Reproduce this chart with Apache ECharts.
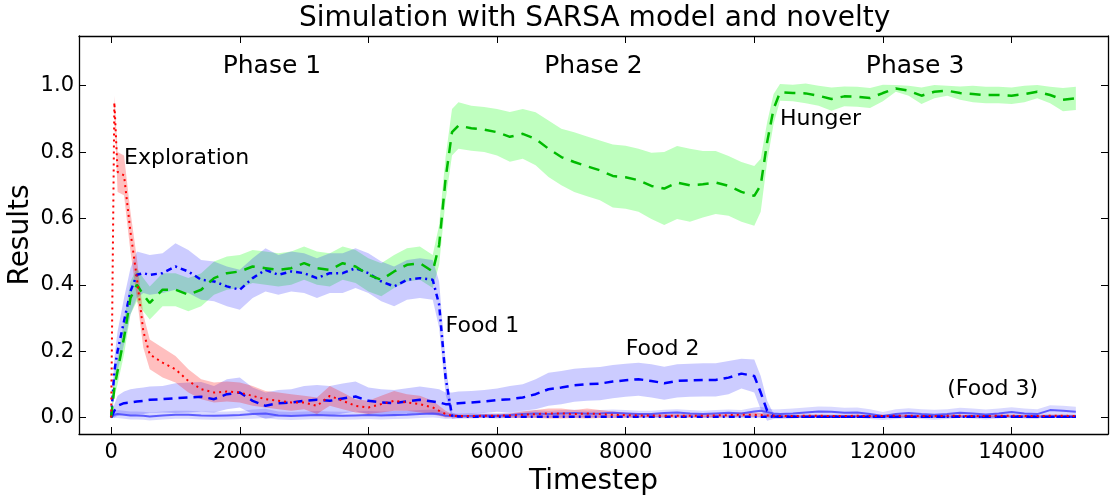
<!DOCTYPE html>
<html>
<head>
<meta charset="utf-8">
<script src="https://cdn.jsdelivr.net/npm/echarts@6/dist/echarts.min.js"></script>
<style>
  html, body { margin: 0; padding: 0; background: #fff; }
  #chart { width: 1110px; height: 495px; }
</style>
</head>
<body>
<div id="chart"></div>
<script>
// timesteps shared by all curves
var steps = [0, 50, 100, 200, 300, 400, 500, 600, 800, 1000,
  1200, 1400, 1600, 1800, 2000, 2200, 2400, 2600, 2800, 3000,
  3200, 3400, 3600, 3800, 4000, 4200, 4400, 4600, 4800, 5000,
  5100, 5200, 5300, 5400, 5600, 5800, 6000, 6200, 6400, 6600,
  6800, 7000, 7200, 7400, 7600, 7800, 8000, 8200, 8400, 8600,
  8800, 9000, 9200, 9400, 9600, 9800, 10000, 10100, 10200, 10300,
  10400, 10600, 10800, 11000, 11200, 11400, 11600, 11800, 12000, 12200,
  12400, 12600, 12800, 13000, 13200, 13400, 13600, 13800, 14000, 14200,
  14400, 14600, 14800, 15000];

var exploration = [0, 0.95, 0.74, 0.73, 0.56, 0.42, 0.26, 0.19, 0.165, 0.145,
  0.11, 0.085, 0.075, 0.078, 0.075, 0.065, 0.055, 0.05, 0.045, 0.045,
  0.035, 0.065, 0.05, 0.035, 0.03, 0.04, 0.05, 0.045, 0.04, 0.03,
  0.02, 0.01, 0.005, 0.004, 0.004, 0.005, 0.005, 0.006, 0.008, 0.01,
  0.012, 0.012, 0.01, 0.012, 0.01, 0.008, 0.007, 0.006, 0.006, 0.005,
  0.005, 0.005, 0.005, 0.006, 0.007, 0.008, 0.008, 0.007, 0.006, 0.005,
  0.004, 0.004, 0.005, 0.005, 0.004, 0.004, 0.005, 0.004, 0.004, 0.005,
  0.005, 0.004, 0.004, 0.005, 0.005, 0.004, 0.004, 0.005, 0.005, 0.004,
  0.004, 0.005, 0.005, 0.004];
var explorationErr = [0, 0.02, 0.06, 0.06, 0.06, 0.06, 0.05, 0.045, 0.045, 0.04,
  0.035, 0.03, 0.03, 0.03, 0.03, 0.03, 0.025, 0.025, 0.025, 0.02,
  0.025, 0.03, 0.025, 0.02, 0.02, 0.025, 0.03, 0.025, 0.025, 0.02,
  0.015, 0.01, 0.005, 0.005, 0.005, 0.005, 0.005, 0.006, 0.01, 0.012,
  0.015, 0.015, 0.012, 0.015, 0.012, 0.01, 0.008, 0.006, 0.005, 0.005,
  0.005, 0.005, 0.005, 0.006, 0.006, 0.007, 0.007, 0.006, 0.005, 0.005,
  0.004, 0.004, 0.004, 0.004, 0.004, 0.004, 0.004, 0.004, 0.004, 0.004,
  0.004, 0.004, 0.004, 0.004, 0.004, 0.004, 0.004, 0.004, 0.004, 0.004,
  0.004, 0.004, 0.004, 0.004];

var hunger = [0, 0.09, 0.14, 0.24, 0.36, 0.40, 0.37, 0.345, 0.385, 0.385,
  0.37, 0.385, 0.42, 0.435, 0.44, 0.455, 0.45, 0.445, 0.45, 0.465,
  0.45, 0.445, 0.465, 0.455, 0.43, 0.415, 0.44, 0.46, 0.465, 0.44,
  0.52, 0.72, 0.86, 0.88, 0.872, 0.868, 0.86, 0.846, 0.855, 0.84,
  0.81, 0.785, 0.77, 0.757, 0.745, 0.728, 0.724, 0.715, 0.698, 0.69,
  0.708, 0.70, 0.703, 0.708, 0.698, 0.68, 0.668, 0.70, 0.83, 0.93,
  0.98, 0.978, 0.977, 0.97, 0.96, 0.968, 0.967, 0.963, 0.978, 0.992,
  0.985, 0.97, 0.982, 0.985, 0.978, 0.975, 0.972, 0.972, 0.97, 0.975,
  0.982, 0.972, 0.958, 0.962];
var hungerErr = [0, 0.03, 0.04, 0.05, 0.05, 0.05, 0.05, 0.05, 0.05, 0.05,
  0.05, 0.05, 0.05, 0.05, 0.05, 0.05, 0.05, 0.05, 0.05, 0.05,
  0.05, 0.05, 0.05, 0.05, 0.05, 0.05, 0.05, 0.05, 0.05, 0.05,
  0.06, 0.065, 0.07, 0.07, 0.068, 0.068, 0.07, 0.075, 0.075, 0.08,
  0.085, 0.085, 0.09, 0.09, 0.09, 0.095, 0.095, 0.095, 0.1, 0.11,
  0.11, 0.11, 0.1, 0.095, 0.09, 0.09, 0.09, 0.08, 0.06, 0.045,
  0.025, 0.025, 0.03, 0.03, 0.035, 0.03, 0.03, 0.03, 0.025, 0.01,
  0.015, 0.025, 0.02, 0.015, 0.02, 0.025, 0.025, 0.025, 0.025, 0.025,
  0.02, 0.025, 0.035, 0.035];

var food1 = [0, 0.14, 0.20, 0.29, 0.38, 0.43, 0.435, 0.43, 0.435, 0.455,
  0.44, 0.415, 0.41, 0.395, 0.385, 0.42, 0.445, 0.43, 0.44, 0.435,
  0.42, 0.435, 0.435, 0.45, 0.435, 0.41, 0.395, 0.415, 0.42, 0.415,
  0.34, 0.12, 0.005, 0.003, 0.002, 0.002, 0.002, 0.002, 0.002, 0.002,
  0.002, 0.002, 0.002, 0.002, 0.002, 0.002, 0.002, 0.002, 0.002, 0.002,
  0.002, 0.002, 0.002, 0.002, 0.002, 0.002, 0.002, 0.002, 0.002, 0.002,
  0.002, 0.002, 0.002, 0.002, 0.002, 0.002, 0.002, 0.002, 0.002, 0.002,
  0.002, 0.002, 0.002, 0.002, 0.002, 0.002, 0.002, 0.002, 0.002, 0.002,
  0.002, 0.002, 0.002, 0.002];
var food1Err = [0, 0.04, 0.06, 0.07, 0.07, 0.07, 0.06, 0.06, 0.06, 0.07,
  0.065, 0.06, 0.06, 0.06, 0.06, 0.06, 0.065, 0.06, 0.06, 0.06,
  0.06, 0.06, 0.06, 0.06, 0.06, 0.06, 0.06, 0.06, 0.06, 0.06,
  0.07, 0.05, 0.01, 0.004, 0.004, 0.004, 0.004, 0.004, 0.004, 0.004,
  0.004, 0.004, 0.004, 0.004, 0.004, 0.004, 0.004, 0.004, 0.004, 0.004,
  0.004, 0.004, 0.004, 0.004, 0.004, 0.004, 0.004, 0.004, 0.004, 0.004,
  0.004, 0.004, 0.004, 0.004, 0.004, 0.004, 0.004, 0.004, 0.004, 0.004,
  0.004, 0.004, 0.004, 0.004, 0.004, 0.004, 0.004, 0.004, 0.004, 0.004,
  0.004, 0.004, 0.004, 0.004];

var food2 = [0, 0.02, 0.035, 0.043, 0.045, 0.048, 0.05, 0.053, 0.055, 0.058,
  0.06, 0.062, 0.055, 0.07, 0.075, 0.05, 0.035, 0.043, 0.045, 0.05,
  0.053, 0.05, 0.057, 0.063, 0.05, 0.045, 0.043, 0.048, 0.053, 0.048,
  0.045, 0.04, 0.04, 0.043, 0.045, 0.048, 0.052, 0.055, 0.06, 0.07,
  0.085, 0.09, 0.097, 0.1, 0.102, 0.108, 0.112, 0.115, 0.11, 0.103,
  0.11, 0.112, 0.113, 0.113, 0.12, 0.132, 0.125, 0.075, 0.02, 0.003,
  0.002, 0.002, 0.002, 0.002, 0.002, 0.002, 0.002, 0.002, 0.002, 0.002,
  0.002, 0.002, 0.002, 0.002, 0.002, 0.002, 0.002, 0.002, 0.002, 0.002,
  0.002, 0.002, 0.002, 0.002];
var food2Err = [0, 0.02, 0.03, 0.035, 0.04, 0.04, 0.04, 0.04, 0.04, 0.045,
  0.045, 0.045, 0.04, 0.045, 0.045, 0.04, 0.04, 0.04, 0.04, 0.045,
  0.045, 0.045, 0.045, 0.045, 0.04, 0.04, 0.04, 0.04, 0.04, 0.04,
  0.04, 0.035, 0.035, 0.035, 0.035, 0.035, 0.035, 0.04, 0.04, 0.045,
  0.05, 0.05, 0.05, 0.05, 0.05, 0.05, 0.05, 0.05, 0.05, 0.05,
  0.05, 0.05, 0.05, 0.05, 0.05, 0.045, 0.05, 0.05, 0.03, 0.008,
  0.004, 0.004, 0.004, 0.004, 0.004, 0.004, 0.004, 0.004, 0.004, 0.004,
  0.004, 0.004, 0.004, 0.004, 0.004, 0.004, 0.004, 0.004, 0.004, 0.004,
  0.004, 0.004, 0.004, 0.004];

var food3 = [0, 0.008, 0.01, 0.008, 0.006, 0.006, 0.005, 0.003, 0.006, 0.008,
  0.008, 0.006, 0.005, 0.006, 0.007, 0.01, 0.012, 0.006, 0.004, 0.006,
  0.007, 0.006, 0.005, 0.006, 0.007, 0.006, 0.007, 0.008, 0.01, 0.012,
  0.01, 0.005, 0.004, 0.004, 0.005, 0.006, 0.005, 0.007, 0.01, 0.012,
  0.01, 0.012, 0.013, 0.011, 0.012, 0.014, 0.012, 0.01, 0.01, 0.013,
  0.015, 0.012, 0.01, 0.012, 0.014, 0.012, 0.018, 0.02, 0.016, 0.012,
  0.01, 0.012, 0.015, 0.018, 0.017, 0.014, 0.015, 0.01, 0.004, 0.01,
  0.013, 0.01, 0.008, 0.01, 0.014, 0.012, 0.009, 0.012, 0.016, 0.012,
  0.01, 0.022, 0.02, 0.017];
var food3Err = [0, 0.01, 0.012, 0.012, 0.012, 0.012, 0.012, 0.012, 0.012, 0.012,
  0.012, 0.012, 0.012, 0.012, 0.012, 0.014, 0.014, 0.012, 0.012, 0.012,
  0.012, 0.012, 0.012, 0.012, 0.012, 0.012, 0.012, 0.012, 0.012, 0.012,
  0.012, 0.01, 0.008, 0.008, 0.008, 0.008, 0.008, 0.008, 0.01, 0.01,
  0.01, 0.01, 0.01, 0.01, 0.01, 0.01, 0.01, 0.01, 0.01, 0.01,
  0.01, 0.01, 0.01, 0.01, 0.01, 0.01, 0.012, 0.012, 0.012, 0.012,
  0.015, 0.015, 0.015, 0.015, 0.015, 0.015, 0.015, 0.015, 0.012, 0.015,
  0.015, 0.015, 0.015, 0.015, 0.015, 0.015, 0.015, 0.015, 0.015, 0.015,
  0.015, 0.015, 0.015, 0.015];

var xTicks = [0, 2000, 4000, 6000, 8000, 10000, 12000, 14000];
var yTicks = [0, 0.2, 0.4, 0.6, 0.8, 1.0];

var phaseText = ['Phase 1', 'Phase 2', 'Phase 3'];
var phaseX = [2500, 7500, 12500];
var phaseY = [1.057, 1.057, 1.057];

var noteText = ['Exploration', 'Food 1', 'Food 2', 'Hunger', '(Food 3)'];
var noteX = [200, 5200, 8000, 10400, 13000];
var noteY = [0.782, 0.274, 0.205, 0.899, 0.084];

var FONT = '"DejaVu Sans", sans-serif';

function pairs(vals) {
  return steps.map(function (s, i) { return [s, vals[i]]; });
}

function band(mean, err, fill) {
  return {
    type: 'custom',
    silent: true,
    z: 1,
    data: [[0, 0]],
    encode: { x: 0, y: 1 },
    renderItem: function (params, api) {
      var pts = [];
      for (var i = 0; i < steps.length; i++) pts.push(api.coord([steps[i], mean[i] + err[i]]));
      for (var j = steps.length - 1; j >= 0; j--) pts.push(api.coord([steps[j], mean[j] - err[j]]));
      return { type: 'polygon', shape: { points: pts }, style: { fill: fill } };
    }
  };
}

function curve(name, vals, color, width, dash) {
  return {
    name: name,
    type: 'line',
    z: 3,
    data: pairs(vals),
    showSymbol: false,
    symbol: 'none',
    silent: true,
    lineStyle: { color: color, width: width, type: dash }
  };
}

function labels(texts, xs, ys, size, align) {
  return {
    type: 'custom',
    silent: true,
    z: 5,
    data: xs.map(function (x, i) { return [x, ys[i]]; }),
    encode: { x: 0, y: 1 },
    renderItem: function (params, api) {
      var p = api.coord([api.value(0), api.value(1)]);
      return {
        type: 'text',
        x: p[0], y: p[1],
        style: {
          text: texts[params.dataIndex],
          fill: '#000',
          font: size + 'px ' + FONT,
          textAlign: align,
          textVerticalAlign: 'middle'
        }
      };
    }
  };
}

var chart = echarts.init(document.getElementById('chart'));

var frameAxis = {
  type: 'value',
  min: -500,
  max: 15500,
  splitLine: { show: false },
  axisLine: { show: true, onZero: false, lineStyle: { color: '#000', width: 1.3 } },
  axisTick: { show: true, inside: true, length: 7, customValues: xTicks, lineStyle: { color: '#000' } }
};
var frameYAxis = {
  type: 'value',
  min: -0.05,
  max: 1.15,
  splitLine: { show: false },
  axisLine: { show: true, onZero: false, lineStyle: { color: '#000', width: 1.3 } },
  axisTick: { show: true, inside: true, length: 7, customValues: yTicks, lineStyle: { color: '#000' } }
};

var option = {
  backgroundColor: '#fff',
  animation: false,
  title: {
    text: 'Simulation with SARSA model and novelty',
    left: 294,
    top: 0,
    textStyle: { fontFamily: FONT, fontSize: 28, fontWeight: 'normal', color: '#000' }
  },
  grid: { left: 79, right: 2, top: 36, bottom: 61, containLabel: false, outerBoundsMode: 'none' },
  xAxis: [
    Object.assign({}, frameAxis, {
      position: 'bottom',
      name: 'Timestep',
      nameLocation: 'middle',
      nameGap: 34,
      nameMoveOverlap: false,
      nameTextStyle: { fontFamily: FONT, fontSize: 28, color: '#000' },
      axisLabel: {
        customValues: xTicks, margin: 8, fontFamily: FONT, fontSize: 21, color: '#000',
        formatter: function (v) { return String(v); }
      }
    }),
    Object.assign({}, frameAxis, { position: 'top', axisLabel: { show: false } })
  ],
  yAxis: [
    Object.assign({}, frameYAxis, {
      position: 'left',
      name: 'Results',
      nameLocation: 'middle',
      nameGap: 44,
      nameMoveOverlap: false,
      nameTextStyle: { fontFamily: FONT, fontSize: 28, color: '#000' },
      axisLabel: {
        customValues: yTicks, margin: 5, fontFamily: FONT, fontSize: 21, color: '#000',
        formatter: function (v) { return v.toFixed(1); }
      }
    }),
    Object.assign({}, frameYAxis, { position: 'right', axisLabel: { show: false } })
  ],
  series: [
    band(hunger, hungerErr, 'rgba(0,255,0,0.25)'),
    band(food1, food1Err, 'rgba(0,0,255,0.2)'),
    band(food2, food2Err, 'rgba(0,0,255,0.2)'),
    band(food3, food3Err, 'rgba(0,0,255,0.15)'),
    band(exploration, explorationErr, 'rgba(255,0,0,0.25)'),
    curve('Food 3', food3, 'rgba(70,70,255,0.85)', 2, 'solid'),
    curve('Food 2', food2, '#0000ff', 2.5, [9, 6]),
    curve('Food 1', food1, '#0000ff', 2.5, [6, 4, 2, 4]),
    curve('Hunger', hunger, '#00bb00', 2.5, [11, 8]),
    curve('Exploration', exploration, '#ff0000', 2, [2, 4]),
    labels(phaseText, phaseX, phaseY, 25, 'center'),
    labels(noteText, noteX, noteY, 22, 'left')
  ]
};

chart.setOption(option);
</script>
</body>
</html>
